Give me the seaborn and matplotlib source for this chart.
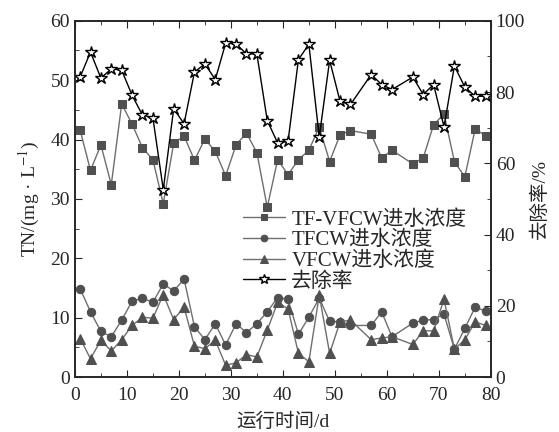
import matplotlib
matplotlib.use('Agg')
import matplotlib.pyplot as plt
from matplotlib.ticker import MultipleLocator
import pandas as pd
import seaborn as sns

# ------------ data ---------------------------------
days = [1, 3, 5, 7, 9, 11, 13, 15, 17, 19, 21, 23, 25, 27, 29, 31, 33, 35, 37, 39, 41, 43, 45,
        47, 49, 51, 53, 57, 59, 61, 65, 67, 69, 71, 73, 75, 77, 79]
tf_vfcw = [41.6, 34.8, 39.1, 32.4, 46.0, 42.6, 38.6, 36.6, 29.2, 39.4, 40.6, 36.5, 40.1, 38.0, 33.9,
           39.1, 41.1, 37.8, 28.6, 36.6, 34.1, 36.6, 38.2,
           42.1, 36.3, 40.8, 41.5, 40.9, 36.9, 38.2, 35.9, 36.9, 42.5, 44.3, 36.3, 33.7, 41.8, 40.6]
tfcw = [14.9, 11.0, 7.7, 6.8, 9.6, 12.8, 13.3, 12.6, 15.7, 14.5, 16.5, 8.5, 6.3, 9.0, 5.4,
        9.0, 7.5, 9.0, 11.0, 13.4, 13.1, 7.2, 10.1,
        13.3, 9.4, 9.3, 8.7, 8.7, 11.0, 6.8, 9.1, 9.6, 9.7, 10.6, 4.7, 8.2, 11.8, 11.1]
vfcw = [6.5, 3.1, 6.2, 4.4, 6.3, 8.7, 10.1, 9.9, 13.9, 9.7, 11.8, 5.2, 4.8, 6.2, 2.0,
        2.4, 3.8, 3.4, 7.9, 12.6, 11.5, 4.0, 2.6,
        13.8, 4.0, 9.3, 9.6, 6.3, 6.6, 6.8, 5.5, 7.8, 7.8, 13.1, 4.7, 6.3, 9.3, 8.7]
removal = [84.2, 91.2, 83.9, 86.5, 86.1, 79.1, 73.5, 72.8, 52.6, 75.3, 71.1, 85.6, 87.9, 83.5, 93.7,
           93.5, 90.7, 90.7, 72.0, 65.7, 66.2, 89.1, 93.4,
           67.4, 88.9, 77.4, 76.5, 84.9, 82.1, 80.7, 84.2, 79.3, 82.1, 70.2, 87.3, 81.4, 78.8, 78.8]

df = pd.DataFrame({'day': days, 'tf_vfcw': tf_vfcw, 'tfcw': tfcw, 'vfcw': vfcw, 'removal': removal})

sns.set_style('ticks')
plt.rcParams['font.family'] = ['Liberation Serif', 'Noto Sans CJK SC']
plt.rcParams['mathtext.fontset'] = 'stix'
plt.rcParams['axes.unicode_minus'] = False

fig = plt.figure(figsize=(5.59, 4.32), dpi=100)
ax = fig.add_axes([0.134, 0.127, 0.744, 0.825])
ax2 = ax.twinx()

gray_line = '#6e6e6e'
gray_mark = '#505050'
sns.lineplot(data=df, x='day', y='tf_vfcw', ax=ax, color=gray_line, lw=1, marker='s', markersize=5.5,
             markerfacecolor=gray_mark, markeredgecolor=gray_mark, label='TF-VFCW进水浓度')
sns.lineplot(data=df, x='day', y='tfcw', ax=ax, color=gray_line, lw=1, marker='o', markersize=6,
             markerfacecolor=gray_mark, markeredgecolor=gray_mark, label='TFCW进水浓度')
sns.lineplot(data=df, x='day', y='vfcw', ax=ax, color=gray_line, lw=1, marker='^', markersize=6.5,
             markerfacecolor=gray_mark, markeredgecolor=gray_mark, label='VFCW进水浓度')
sns.lineplot(data=df, x='day', y='removal', ax=ax2, color='black', lw=1, marker='*', markersize=9,
             markerfacecolor='white', markeredgecolor='black', markeredgewidth=1, label='去除率')

ax.set_xlim(0, 80)
ax.set_ylim(0, 60)
ax2.set_ylim(0, 100)
ax.xaxis.set_major_locator(MultipleLocator(10))
ax.xaxis.set_minor_locator(MultipleLocator(5))
ax.yaxis.set_major_locator(MultipleLocator(10))
ax.yaxis.set_minor_locator(MultipleLocator(5))
ax2.yaxis.set_major_locator(MultipleLocator(20))
ax2.yaxis.set_minor_locator(MultipleLocator(10))

ax.tick_params(which='both', direction='in', top=True, right=False, labelsize=14)
ax.tick_params(which='major', length=5)
ax.tick_params(which='minor', length=3)
ax.tick_params(axis='x', pad=7)
ax2.tick_params(which='both', direction='in', labelsize=14)
ax2.tick_params(which='major', length=5)
ax2.tick_params(which='minor', length=3)

for a in (ax, ax2):
    for s in a.spines.values():
        s.set_linewidth(1.2)

ax.set_xlabel('运行时间/d', fontsize=14, labelpad=6)
ax.set_ylabel('TN/(mg · L$^{-1}$)', fontsize=14, labelpad=6)
ax2.set_ylabel('去除率/%', fontsize=14)

h1, l1 = ax.get_legend_handles_labels()
h2, l2 = ax2.get_legend_handles_labels()
if ax2.get_legend():
    ax2.get_legend().remove()
ax.legend(h1 + h2, l1 + l2, loc='upper left', bbox_to_anchor=(0.37, 0.51), frameon=False,
          fontsize=15, handlelength=2.0, handletextpad=0.3, labelspacing=0.05, borderpad=0.2,
          markerscale=0.8)

fig.savefig('out.png', dpi=100)
